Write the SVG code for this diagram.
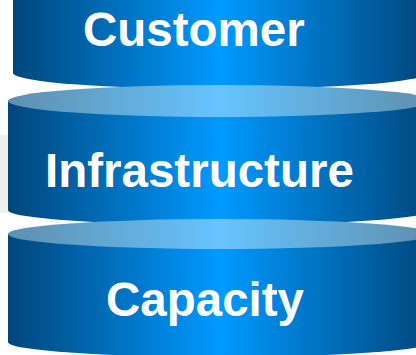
<svg xmlns="http://www.w3.org/2000/svg" width="416" height="355" viewBox="0 0 416 355">
  <defs>
    <linearGradient id="bodyA" gradientUnits="userSpaceOnUse" x1="13" y1="0" x2="427" y2="0">
      <stop offset="0" stop-color="#00467c"/>
      <stop offset="0.5" stop-color="#009aff"/>
      <stop offset="1" stop-color="#00467c"/>
    </linearGradient>
    <linearGradient id="bodyB" gradientUnits="userSpaceOnUse" x1="8" y1="0" x2="432" y2="0">
      <stop offset="0" stop-color="#00467c"/>
      <stop offset="0.5" stop-color="#009aff"/>
      <stop offset="1" stop-color="#00467c"/>
    </linearGradient>
    <linearGradient id="lid" gradientUnits="userSpaceOnUse" x1="8" y1="0" x2="432" y2="0">
      <stop offset="0" stop-color="#5f8fae"/>
      <stop offset="0.5" stop-color="#66c4ff"/>
      <stop offset="1" stop-color="#5f8fae"/>
    </linearGradient>
  </defs>
  <style>
    .label { font-family: "Liberation Sans", Arial, sans-serif; font-weight: bold; font-size: 47.5px; fill: #ffffff; }
  </style>
  <rect x="0" y="135" width="30" height="78" fill="#efefef"/>
  <g id="customer">
    <path d="M13,-10 L13,73 A207,16 0 0 0 427,73 L427,-10 Z" fill="url(#bodyA)"/>
    <text class="label" x="83" y="46">Customer</text>
  </g>
  <g id="infrastructure">
    <path d="M8,101 L8,210 A212,15 0 0 0 432,210 L432,101 Z" fill="url(#bodyB)"/>
    <ellipse cx="220" cy="101" rx="212" ry="16" fill="url(#lid)"/>
    <text class="label" x="45" y="187">Infrastructure</text>
  </g>
  <g id="capacity">
    <path d="M8,234 L8,342 A212,15 0 0 0 432,342 L432,234 Z" fill="url(#bodyB)"/>
    <ellipse cx="220" cy="234" rx="212" ry="15" fill="url(#lid)"/>
    <text class="label" x="106" y="316">Capacity</text>
  </g>
  <g id="connectors"/>
</svg>
